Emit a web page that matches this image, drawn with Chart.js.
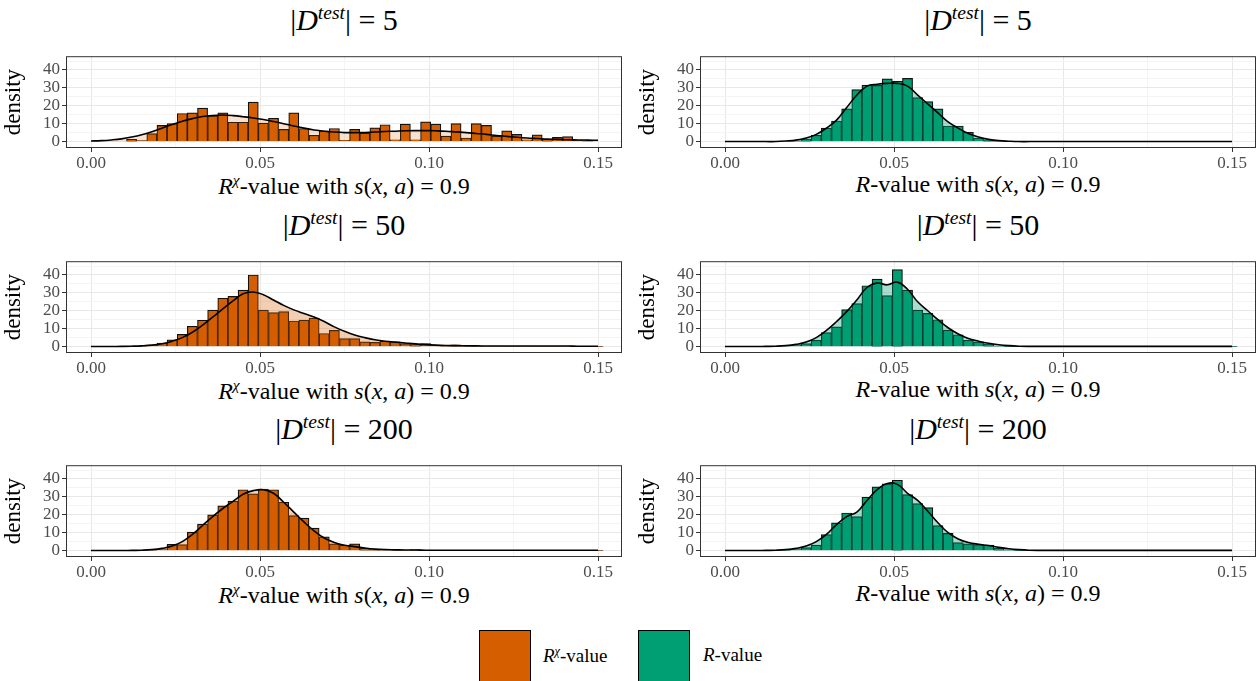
<!DOCTYPE html>
<html>
<head>
<meta charset="utf-8">
<script src="https://cdn.jsdelivr.net/npm/chart.js@4"></script>
<style>
  body { margin: 0; width: 1258px; height: 681px; background: #fff; position: relative; overflow: hidden;
         font-family: "Liberation Serif", "DejaVu Serif", serif; color: #000; }
  .panel { position: absolute; width: 626px; height: 126px; }
  .title { position: absolute; font-size: 30px; text-align: center; width: 626px; white-space: nowrap; }
  .xlab { position: absolute; font-size: 24px; text-align: center; width: 626px; white-space: nowrap; }
  sup { font-size: 65%; }
  .box { position: absolute; width: 50px; height: 50px; border: 1.5px solid #000; }
  .ltext { position: absolute; font-size: 19px; white-space: nowrap; }
</style>
</head>
<body>
<script>
// bin centres every 0.003 from 0 to 0.15
const binCentres = Array.from({ length: 51 }, (_, k) => +(k * 0.003).toFixed(4));
const xTicks = [0, 0.025, 0.05, 0.075, 0.1, 0.125, 0.15];
const yTicks = [0, 5, 10, 15, 20, 25, 30, 35, 40, 45];
const titles = ["5", "50", "200"];

const rchi5 = [0,0,0,0,1.2,0.5,4.4,9,10,15.7,16,18.7,14.3,16,10.8,10.8,22,10.3,13,6.8,16,7.3,3.5,6,7.3,0.7,6.8,4.7,7.7,9.4,1,9.8,1,11,9.8,3,10,2,10,9,3,6,4,1,3.7,1.2,2.3,2.8,0.7,0.3,0];
const rchi5Dens = [0.3,0.5,0.9,1.5,2.5,3.8,5.5,7.5,9.5,11.3,12.8,14,14.6,14.8,14.5,13.9,13.2,12.3,11.2,10,8.7,7.5,6.5,5.8,5.3,5,5,5.1,5.3,5.6,5.8,6,6.1,6.1,6,5.8,5.4,5,4.5,4,3.4,2.9,2.4,2,1.7,1.4,1.2,1,0.9,0.8,0.7];
const rchi50 = [0,0,0,0,0.1,0.2,0.7,2,3.8,6.8,11.3,14.7,20.4,27,28,31.6,40,20.4,19,19.5,14.3,14.8,15.9,7.3,9,4.4,4.4,2.6,2.3,3,2.6,1.7,1.4,1.7,0.5,0.3,0.9,0.7,0.4,0.3,0.3,0.2,0.2,0.3,0.2,0.2,0.2,0.3,0.2,0.2,0.1];
const rchi50Dens = [0,0,0.05,0.1,0.2,0.4,0.8,1.6,3,5,8,12,16.5,21,25.5,29.5,30.5,29,26,23,20.5,18.5,16.5,14,11,8.5,6.5,5,3.8,3,2.5,2,1.5,1.1,0.8,0.6,0.5,0.4,0.4,0.3,0.3,0.3,0.3,0.3,0.3,0.3,0.3,0.3,0.2,0.2,0.2];
const rchi200 = [0,0,0,0,0,0.2,0.3,0.5,3.5,3.3,10.3,14.8,20,25,27.6,34,31.7,34.4,34,27,19.5,18.1,12.6,7.7,3.8,3,3.7,1.2,0.6,0.5,0.6,0.2,0.6,0.3,0.1,0.1,0.1,0.1,0.1,0.1,0.1,0.1,0.1,0.1,0.1,0.1,0.1,0.1,0.1,0.1,0.1];
const rchi200Dens = [0,0,0,0,0.1,0.2,0.5,1.2,2.5,5,9,14,19,23.5,27.5,31.5,33.5,34,32,27,21.5,16,11,7,4.5,3,2.2,1.4,0.8,0.5,0.4,0.3,0.3,0.2,0.2,0.2,0.2,0.2,0.2,0.2,0.2,0.2,0.2,0.2,0.2,0.2,0.2,0.2,0.2,0.2,0.2];
const r5 = [0,0,0,0,0,0,0,0.3,1.4,3.5,7.5,11.5,18.3,29,31.6,31.4,35,33.7,35.3,24.6,22.3,18.3,8.7,8.7,5.2,2,0.9,0.3,0.1,0,0,0,0,0,0,0,0,0,0,0,0,0,0,0,0,0,0,0,0,0,0];
const r5Dens = [0,0,0,0,0,0,0.3,0.8,2,4,7.5,12,19,26,31,32,32.5,32.5,31,26,21,16,11,7.5,4.5,2.5,1.2,0.5,0.2,0,0,0,0,0,0,0,0,0,0,0,0,0,0,0,0,0,0,0,0,0,0];
const r50 = [0,0,0,0,0,0.3,0.5,1,1.7,3.5,7.8,11,20.6,24,34,37.7,28.5,43,31.5,20.4,18.5,15,9.2,6.6,3.5,2.6,1.4,0.3,0.1,0.1,0.1,0.1,0.1,0.1,0.1,0.1,0.1,0.1,0.1,0.1,0.1,0.1,0.1,0.1,0.1,0.1,0.1,0.1,0.1,0.1,0.1];
const r50Dens = [0,0,0,0,0.1,0.2,0.5,1.2,2.5,5,9,14,19.5,26,33,35.5,34.5,36,32,25,20,15,10.5,7,4.5,3,1.8,1,0.5,0.2,0.1,0.1,0.1,0.1,0.1,0.1,0.1,0.1,0.1,0.1,0.1,0.1,0.1,0.1,0.1,0.1,0.1,0.1,0.1,0.1,0.1];
const r200 = [0,0,0,0,0,0.2,0.3,0.5,1.7,3,8.9,15.5,21,19,29.8,35.6,37.3,39.3,31.3,26.2,24,14,9.6,4.4,3.7,3.3,3,1.2,0.4,0.1,0.1,0.1,0.1,0.1,0,0,0,0,0,0,0,0,0,0,0,0,0,0,0,0,0];
const r200Dens = [0,0,0,0,0.1,0.2,0.5,1.2,2.5,5,9,14.5,19,21.5,28,34,37.5,37,32,28,22,15.5,10,6.5,4.5,3.5,2.8,1.8,1,0.5,0.2,0.1,0.1,0.1,0.1,0.1,0.1,0.1,0.1,0.1,0.1,0.1,0.1,0.1,0.1,0.1,0.1,0.1,0.1,0.1,0.1];

const ORANGE = "#D55E00", GREEN = "#009E73";
const panels = [
  { bars: rchi5, dens: rchi5Dens, col: ORANGE, fill: "rgba(213,94,0,0.18)", left: 0, top: 48, n: 0, chi: true },
  { bars: r5, dens: r5Dens, col: GREEN, fill: "rgba(0,158,115,0.35)", left: 634, top: 48, n: 0, chi: false },
  { bars: rchi50, dens: rchi50Dens, col: ORANGE, fill: "rgba(213,94,0,0.3)", left: 0, top: 253, n: 1, chi: true },
  { bars: r50, dens: r50Dens, col: GREEN, fill: "rgba(0,158,115,0.35)", left: 634, top: 253, n: 1, chi: false },
  { bars: rchi200, dens: rchi200Dens, col: ORANGE, fill: "rgba(213,94,0,0.3)", left: 0, top: 457, n: 2, chi: true },
  { bars: r200, dens: r200Dens, col: GREEN, fill: "rgba(0,158,115,0.35)", left: 634, top: 457, n: 2, chi: false },
];

const frame = {
  id: "frame",
  afterDraw(chart) {
    const a = chart.chartArea, c = chart.ctx;
    c.save();
    c.strokeStyle = "#333";
    c.lineWidth = 1;
    c.strokeRect(a.left + 0.5, a.top + 0.5, a.width - 1, a.height - 1);
    c.restore();
  },
};

const isMajorX = (v) => Math.abs((v / 0.05) - Math.round(v / 0.05)) < 1e-6;
const tv = (c) => (c.tick ? c.tick.value : NaN);

panels.forEach((p) => {
  const t = document.createElement("div");
  t.className = "title";
  t.style.left = (p.left + 31) + "px";
  t.style.top = (p.top - 46) + "px";
  t.innerHTML = "|<i>D</i><sup><i>test</i></sup>| = " + titles[p.n];
  document.body.appendChild(t);

  const xl = document.createElement("div");
  xl.className = "xlab";
  xl.style.left = (p.left + 31) + "px";
  xl.style.top = (p.top + 123) + "px";
  xl.innerHTML = (p.chi ? "<i>R</i><sup><i>χ</i></sup>" : "<i>R</i>") + "-value with <i>s</i>(<i>x</i>, <i>a</i>) = 0.9";
  document.body.appendChild(xl);

  const div = document.createElement("div");
  div.className = "panel";
  div.style.left = p.left + "px";
  div.style.top = (p.top - 4) + "px";
  const cv = document.createElement("canvas");
  div.appendChild(cv);
  document.body.appendChild(div);

  new Chart(cv, {
    type: "bar",
    data: {
      datasets: [
        {
          type: "line",
          data: binCentres.map((x, i) => ({ x, y: p.dens[i] })),
          borderColor: "#000",
          borderWidth: 1.6,
          backgroundColor: p.fill,
          fill: "origin",
          pointRadius: 0,
          tension: 0.4,
          order: 0,
        },
        {
          data: binCentres.map((x, i) => ({ x, y: p.bars[i] })),
          backgroundColor: p.col,
          borderColor: "#111",
          borderWidth: 1.2,
          barPercentage: 1,
          categoryPercentage: 1,
          order: 1,
        },
      ],
    },
    options: {
      responsive: true,
      maintainAspectRatio: false,
      animation: false,
      layout: { padding: { top: 4, right: 4 } },
      plugins: { legend: { display: false }, tooltip: { enabled: false } },
      scales: {
        x: {
          type: "linear",
          offset: false,
          min: -0.0074,
          max: 0.1571,
          afterBuildTicks: (s) => { s.ticks = xTicks.map((v) => ({ value: v })); },
          afterFit: (s) => { s.height = 22; },
          ticks: {
            autoSkip: false, maxRotation: 0, padding: 1,
            color: "#4d4d4d",
            font: { family: "Liberation Serif", size: 17 },
            callback: (v) => (isMajorX(v) ? v.toFixed(2) : ""),
          },
          grid: {
            offset: false,
            color: (c) => (isMajorX(tv(c)) ? "#e8e8e8" : "#f4f4f4"),
            tickColor: (c) => (isMajorX(tv(c)) ? "#333" : "rgba(0,0,0,0)"),
            tickLength: 4,
          },
          border: { display: false },
        },
        y: {
          min: -3.6,
          max: 47.7,
          afterBuildTicks: (s) => { s.ticks = yTicks.map((v) => ({ value: v })); },
          afterFit: (s) => { s.width = 66; },
          ticks: {
            autoSkip: false, padding: 2,
            color: "#4d4d4d",
            font: { family: "Liberation Serif", size: 17 },
            callback: (v) => (v % 10 === 0 && v <= 40 ? v : ""),
          },
          title: {
            display: true, text: "density", padding: 0,
            color: "#000",
            font: { family: "Liberation Serif", size: 23 },
          },
          grid: {
            color: (c) => (tv(c) % 10 === 0 ? "#e8e8e8" : "#f4f4f4"),
            tickColor: (c) => (tv(c) % 10 === 0 && tv(c) <= 40 ? "#333" : "rgba(0,0,0,0)"),
            tickLength: 4,
          },
          border: { display: false },
        },
      },
    },
    plugins: [frame],
  });
});
</script>
<div class="box" style="left:479px; top:630px; background:#D55E00;"></div>
<div class="ltext" style="left:543px; top:644px;"><i>R</i><sup><i>χ</i></sup>-value</div>
<div class="box" style="left:638px; top:630px; background:#009E73;"></div>
<div class="ltext" style="left:703px; top:644px;"><i>R</i>-value</div>
</body>
</html>
